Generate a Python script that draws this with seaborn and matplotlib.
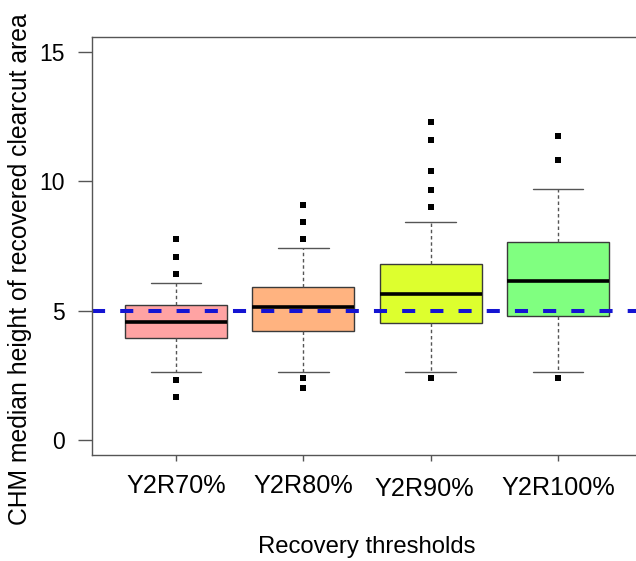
import matplotlib
matplotlib.use("Agg")
import matplotlib.pyplot as plt
import matplotlib.transforms as mtransforms
import numpy as np
import pandas as pd
import seaborn as sns

# Recovery threshold groups
categories = ["Y2R70%", "Y2R80%", "Y2R90%", "Y2R100%"]

# Five-number summaries (m) per group
whisker_low = [2.62, 2.62, 2.62, 2.62]
quartile_1 = [3.92, 4.22, 4.53, 4.80]
medians = [4.55, 5.15, 5.64, 6.16]
quartile_3 = [5.20, 5.92, 6.80, 7.67]
whisker_high = [6.08, 7.41, 8.42, 9.70]

# Outlying values per group
outliers_70 = [7.76, 7.06, 6.40, 2.31, 1.66]
outliers_80 = [9.08, 8.44, 7.76, 2.37, 1.98]
outliers_90 = [12.32, 11.61, 10.41, 9.66, 9.00, 2.40]
outliers_100 = [11.76, 10.83, 2.37]

reference_height = 5.0
y_ticks = [0, 5, 10, 15]

box_colors = ["#FFA3A3", "#FFB380", "#DDFF2E", "#80FF80"]

# Long-form tables
rows = []
for cat, lo, a, m, b, hi in zip(categories, whisker_low, quartile_1, medians,
                                quartile_3, whisker_high):
    for v in (lo, a, m, b, hi):
        rows.append((cat, v))
box_df = pd.DataFrame(rows, columns=["threshold", "height"])

out_rows = []
for cat, vals in zip(categories, [outliers_70, outliers_80, outliers_90, outliers_100]):
    for v in vals:
        out_rows.append((cat, v))
out_df = pd.DataFrame(out_rows, columns=["threshold", "height"])

sns.set_style("white")
plt.rcParams["font.family"] = ["Liberation Sans", "DejaVu Sans"]
plt.rcParams["text.color"] = "black"
plt.rcParams["axes.labelcolor"] = "black"

W, H = 636, 561
fig = plt.figure(figsize=(W / 100, H / 100), dpi=100)
left, right, top, bottom = 92, 642, 37, 455
ax = fig.add_axes([left / W, (H - bottom) / H, (right - left) / W, (bottom - top) / H])

sns.boxplot(
    data=box_df, x="threshold", y="height", hue="threshold",
    order=categories, hue_order=categories, palette=box_colors,
    legend=False, width=0.8, whis=(0, 100), fliersize=0,
    linecolor="#3a3a3a", linewidth=1.0, saturation=1,
    capwidths=0.4,
    medianprops=dict(color="black", linewidth=2.6),
    whiskerprops=dict(color="#555555", linestyle=(0, (2.5, 2)), linewidth=1.0),
    capprops=dict(color="#555555", linewidth=1.0),
    ax=ax,
)

sns.stripplot(
    data=out_df, x="threshold", y="height", order=categories,
    jitter=False, marker="s", color="black", size=4.0, linewidth=0, ax=ax,
)

line = ax.axhline(reference_height, color="#1414D2", linewidth=2.9)
line.set_dashes((3.25, 3.75))

ax.set_xlim(-0.66, 3.66)
ax.set_ylim(-0.6, 15.6)
ax.set_yticks(y_ticks)
ax.set_yticklabels([str(t) for t in y_ticks])

for s in ax.spines.values():
    s.set_color("#555555")
    s.set_linewidth(1.0)

ax.tick_params(axis="y", direction="out", length=10, width=1.0, color="#555555",
               pad=9.8, labelsize=16.5, labelcolor="black", left=True)
ax.tick_params(axis="x", direction="out", length=4.5, width=1.0, color="#555555",
               pad=9, labelsize=18.2, labelcolor="black", bottom=True)

# slight nudge of the lower-set group labels
for i, lab in enumerate(ax.get_xticklabels()):
    if i == 2:
        lab.set_transform(lab.get_transform() +
                          mtransforms.ScaledTranslation(-6 / 100, -3 / 100, fig.dpi_scale_trans))
    elif i == 3:
        lab.set_transform(lab.get_transform() +
                          mtransforms.ScaledTranslation(0, -2 / 100, fig.dpi_scale_trans))

ax.set_xlabel("Recovery thresholds", fontsize=17.2, color="black")
ax.xaxis.label.set_va("center")
ax.xaxis.set_label_coords((366.5 - left) / (right - left), (bottom - 547) / (bottom - top))

ax.set_ylabel("CHM median height of recovered clearcut area", fontsize=17.8, color="black")
ax.yaxis.label.set_va("baseline")
ax.yaxis.set_label_coords((26.7 - left) / (right - left), (bottom - 269) / (bottom - top))

fig.savefig("out.png", dpi=100)
